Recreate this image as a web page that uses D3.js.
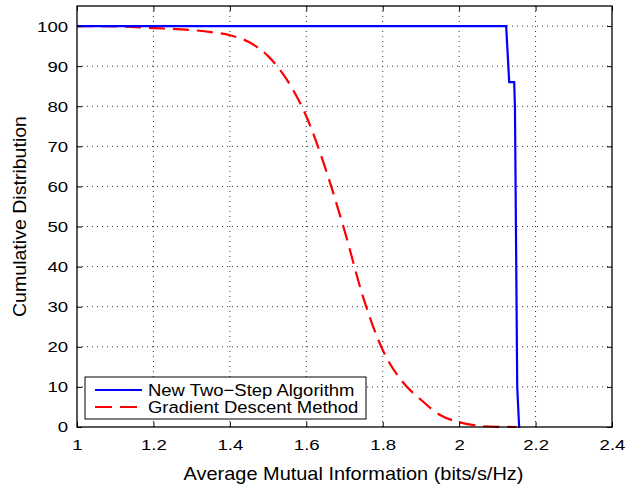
<!DOCTYPE html>
<html>
<head>
<meta charset="utf-8">
<script src="https://cdn.jsdelivr.net/npm/d3@7"></script>
<style>
  body { margin: 0; background: #fff; }
  text { font-family: "Liberation Sans", Arial, Helvetica, sans-serif; fill: #000; }
  .grid line { stroke: #333; stroke-width: 1; stroke-dasharray: 1,4; }
</style>
</head>
<body>
<div id="chart"></div>
<script>
var svgWidth = 626;
var svgHeight = 488;

var margin = { top: 6, right: 14, bottom: 61, left: 77 };
var width = svgWidth - margin.left - margin.right;
var height = svgHeight - margin.top - margin.bottom;

// data
var xTicks = [1, 1.2, 1.4, 1.6, 1.8, 2, 2.2, 2.4];
var yTicks = [0, 10, 20, 30, 40, 50, 60, 70, 80, 90, 100];

var twoStepX = [1.0, 2.123, 2.131, 2.144, 2.146, 2.152, 2.157, 2.160];
var twoStepY = [100, 100, 86, 86, 80, 10, 0, 0];

var gradX = [1.0, 1.1, 1.2, 1.3, 1.35, 1.4, 1.45, 1.5, 1.55, 1.6, 1.65, 1.7, 1.75, 1.8, 1.85, 1.9, 1.95, 2.0, 2.05, 2.1, 2.15];
var gradY = [100, 99.9, 99.5, 99.0, 98.5, 97.7, 96.0, 92.5, 86.5, 77.5, 64.5, 49.0, 32.0, 19.2, 11.5, 6.8, 3.0, 1.2, 0.3, 0.05, 0];

var seriesNames = ["New Two\u2212Step Algorithm", "Gradient Descent Method"];

var svg = d3.select("#chart")
  .append("svg")
  .attr("width", svgWidth)
  .attr("height", svgHeight);

var chartGroup = svg.append("g")
  .attr("transform", `translate(${margin.left}, ${margin.top})`);

var xScale = d3.scaleLinear().domain([1, 2.4]).range([0, width]);
var yScale = d3.scaleLinear().domain([0, 105]).range([height, 0]);

// grid
var grid = chartGroup.append("g").attr("class", "grid");
grid.selectAll(".gx")
  .data(xTicks.slice(1, -1))
  .enter().append("line")
  .attr("x1", d => xScale(d)).attr("x2", d => xScale(d))
  .attr("y1", 0).attr("y2", height);
grid.selectAll(".gy")
  .data(yTicks.slice(1))
  .enter().append("line")
  .attr("x1", 0).attr("x2", width)
  .attr("y1", d => yScale(d)).attr("y2", d => yScale(d));

// lines
var line = d3.line()
  .x(d => xScale(d[0]))
  .y(d => yScale(d[1]));

chartGroup.append("path")
  .datum(gradX.map((x, i) => [x, gradY[i]]))
  .attr("d", line.curve(d3.curveMonotoneX))
  .attr("fill", "none")
  .attr("stroke", "#ff0000")
  .attr("stroke-width", 2.2)
  .attr("stroke-dasharray", "16,8");

chartGroup.append("path")
  .datum(twoStepX.map((x, i) => [x, twoStepY[i]]))
  .attr("d", d3.line().x(d => xScale(d[0])).y(d => yScale(d[1])))
  .attr("fill", "none")
  .attr("stroke", "#0000ff")
  .attr("stroke-width", 2.2);

// axes with inward ticks on all sides
var axisStyle = function(g) {
  g.select(".domain").remove();
  g.selectAll(".tick line").attr("stroke", "#000");
  g.selectAll("text")
    .style("font-size", "15.5px")
    .style("font-family", "Liberation Sans, Arial, sans-serif")
    .attr("transform", "scale(1.2,1)");
};

chartGroup.append("g")
  .attr("transform", `translate(0, ${height})`)
  .call(d3.axisBottom(xScale).tickValues(xTicks).tickSize(-5).tickPadding(12.5).tickFormat(d3.format("")))
  .call(axisStyle);

chartGroup.append("g")
  .call(d3.axisTop(xScale).tickValues(xTicks).tickSize(-5).tickFormat(""))
  .call(axisStyle);

chartGroup.append("g")
  .call(d3.axisLeft(yScale).tickValues(yTicks).tickSize(-5).tickPadding(9))
  .call(axisStyle)
  .selectAll("text").attr("x", -7.4);

chartGroup.append("g")
  .attr("transform", `translate(${width}, 0)`)
  .call(d3.axisRight(yScale).tickValues(yTicks).tickSize(-5).tickFormat(""))
  .call(axisStyle);

// frame
chartGroup.append("rect")
  .attr("width", width)
  .attr("height", height)
  .attr("fill", "none")
  .attr("stroke", "#000")
  .attr("stroke-width", 1.3);

// legend
var legend = chartGroup.append("g")
  .attr("transform", `translate(8, ${height - 50})`);

legend.append("rect")
  .attr("width", 281)
  .attr("height", 42)
  .attr("fill", "#fff")
  .attr("stroke", "#000")
  .attr("stroke-width", 1);

var legendStyles = [
  { color: "#0000ff", dash: null },
  { color: "#ff0000", dash: "17,8" }
];

seriesNames.forEach(function(name, i) {
  var y = 13 + i * 17;
  legend.append("line")
    .attr("x1", 10).attr("x2", 57)
    .attr("y1", y).attr("y2", y)
    .attr("stroke", legendStyles[i].color)
    .attr("stroke-width", 2.2)
    .attr("stroke-dasharray", legendStyles[i].dash);
  legend.append("text")
    .attr("transform", `translate(63, ${y + 6}) scale(1.1,1)`)
    .style("font-size", "16.8px")
    .text(name);
});

// axis labels
svg.append("text")
  .attr("transform", "translate(26, " + (margin.top + height / 2) + ") rotate(-90) scale(1.03,1)")
  .attr("text-anchor", "middle")
  .style("font-size", "19px")
  .text("Cumulative Distribution");

svg.append("text")
  .attr("transform", "translate(" + (margin.left + width / 2 + 9) + ", 480) scale(1.05,1)")
  .attr("text-anchor", "middle")
  .style("font-size", "19px")
  .text("Average Mutual Information (bits/s/Hz)");
</script>
</body>
</html>
